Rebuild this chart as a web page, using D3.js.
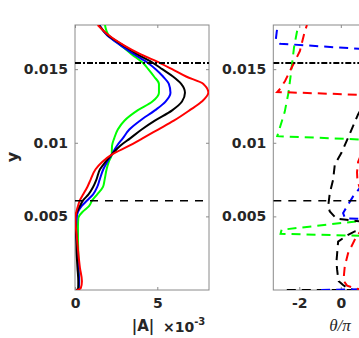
<!DOCTYPE html>
<html>
<head>
<meta charset="utf-8">
<script src="https://d3js.org/d3.v7.min.js"></script>
<style>
  body { margin: 0; background: #fff; }
  text { font-family: "DejaVu Sans", sans-serif; fill: #262626; }
</style>
</head>
<body>
<div id="my_dataviz"></div>
<script>

// y values are in units of 1e-3
var yGrid = [0, 0.12, 0.6, 1.5, 2.5, 3.5, 4.3, 4.9, 5.3, 5.7, 6.1, 6.5, 7.0, 7.5, 8.2, 8.7,
             9.2, 9.8, 10.3, 10.9, 11.5, 12.2, 12.8, 13.4, 14.0, 14.5, 15.0, 15.4, 16.0, 16.6, 17.3, 18.0];

// |A| (x 1e-3) for the four cases
var ampGreen = [0.15, 0.22, 0.25, 0.22, 0.2, 0.18, 0.18, 0.2, 0.45, 0.85, 1.05, 1.35, 1.7, 1.8, 1.92, 2.05,
                2.23, 2.25, 2.38, 2.6, 3.0, 3.8, 4.7, 5.1, 5.1, 4.8, 4.45, 4.15, 3.45, 2.8, 2.05, 1.82];
var ampBlue  = [0.12, 0.22, 0.25, 0.2, 0.15, 0.1, 0.07, 0.1, 0.18, 0.4, 0.75, 1.1, 1.35, 1.5, 1.72, 1.95,
                2.23, 2.55, 2.9, 3.3, 3.95, 4.85, 5.5, 5.8, 5.7, 5.35, 4.9, 4.45, 3.6, 2.8, 1.95, 1.48];
var ampBlack = [0.1, 0.2, 0.2, 0.15, 0.1, 0.08, 0.04, 0.0, 0.12, 0.3, 0.5, 0.82, 1.1, 1.3, 1.52, 1.85,
                2.23, 2.75, 3.35, 4.05, 4.85, 5.9, 6.5, 6.68, 6.45, 5.95, 5.3, 4.78, 3.8, 2.95, 2.0, 1.45];
var ampRed   = [0.1, 0.35, 0.42, 0.3, 0.2, 0.12, 0.05, 0.03, 0.08, 0.18, 0.3, 0.5, 0.75, 0.95, 1.25, 1.65,
                2.23, 3.3, 4.1, 5.05, 6.0, 6.95, 7.7, 8.1, 7.8, 6.75, 5.9, 5.2, 4.0, 3.0, 2.05, 1.38];

// phase theta/pi, each with its own y samples
var phGreenY = [0, 1.5, 3.0, 3.6, 3.82, 4.09, 5.05, 6.5, 8.0, 9.5, 10.1, 10.45, 12.1, 13.4, 14.5, 16.5, 18];
var phGreen  = [2.6, 2.4, 2.8, 3.2, -2.9, -2.85, 3.2, 2.6, 2.2, 2.8, 3.2, -3.06, -2.7, -2.52, -2.42, -2.25, -2.05];

var phBlackY = [0, 0, 0.15, 0.34, 0.6, 0.8, 1.4, 1.93, 2.6, 3.29, 3.75, 3.98, 4.15, 4.3, 4.84, 5.34, 5.68,
                6.59, 7.5, 8.52, 9.32, 10.34, 11.93, 13.5, 15.0, 17.0, 18];
var phBlack  = [-2.6, 0.6, 0.3, 0.11, -0.1, -0.13, -0.18, -0.21, -0.17, -0.13, 0.35, 0.67, 1.5, 3.2, -0.21, -0.53, -0.61,
                -0.53, -0.37, -0.29, 0.03, 0.35, 0.83, 1.5, 2.3, 2.8, 3.0];

var phBlueY = [0, 0.1, 1.0, 2.5, 4.0, 4.7, 4.87, 5.23, 5.8, 6.36, 6.9, 8.0, 10.0, 12.0, 16.17, 16.73, 17.0, 17.6, 18];
var phBlue  = [-0.95, 3.2, 3.0, 2.5, 2.0, 3.2, 0.2, 0.11, 0.35, 0.59, 0.9, 1.5, 2.2, 2.8, 3.2, -2.93, -3.13, -3.08, -3.02];

var phRedY = [0, 0.1, 0.3, 0.6, 1.0, 1.6, 2.05, 2.5, 2.95, 3.41, 3.9, 5.0, 6.2, 6.8, 7.4, 8.0, 8.7, 9.3, 10.5,
              12.0, 13.15, 13.45, 13.6, 14.18, 15.55, 16.23, 17.59, 18];
var phRed  = [1.2, 0.7, 0.3, 0.15, 0.15, 0.19, 0.27, 0.35, 0.51, 0.67, 0.9, 1.3, 1.2, 0.95, 0.8, 0.78, 0.83, 1.0, 1.5,
              2.3, 3.2, -3.06, -2.96, -2.69, -2.21, -1.97, -1.73, -1.63];

// reference lines (y x 1e-3)
var yDashDot = 15.42;
var yDashed = 6.07;

var yTicks = [5, 10, 15];
var ampTicks = [0, 5];
var phTicks = [-2, 0];   // the "2" tick lies past the window edge

var colors = {green: "#00ff00", blue: "#0000ff", black: "#000000", red: "#ff0000"};

var svg = d3.select("#my_dataviz")
    .append("svg")
    .attr("width", 359)
    .attr("height", 338);

var y = d3.scaleLinear().domain([0, 18]).range([290, 25]);
var xA = d3.scaleLinear().domain([0, 8.14]).range([75, 209]);
var xP = d3.scaleLinear().domain([-3.25, 3.2]).range([273.3, 407.3]);

function zip(xs, ys) { return xs.map(function(v, i) { return [v, ys[i]]; }); }

// draw one panel frame with ticks
function panel(id, x, xTicks) {
    var x0 = x.range()[0], x1 = x.range()[1];
    svg.append("clipPath").attr("id", id)
        .append("rect").attr("x", x0).attr("y", 25).attr("width", x1 - x0).attr("height", 265);

    var g = svg.append("g").attr("class", "axes");
    g.append("g").attr("transform", "translate(" + x0 + ",0)")
        .call(d3.axisLeft(y).tickValues(yTicks).tickSize(-3).tickPadding(7)
            .tickFormat(function(d) { return String(d / 1000); }));
    g.append("g").attr("transform", "translate(" + x1 + ",0)")
        .call(d3.axisRight(y).tickValues(yTicks).tickSize(-3).tickFormat(""));
    g.append("g").attr("transform", "translate(0,290)")
        .call(d3.axisBottom(x).tickValues(xTicks).tickSize(-3).tickPadding(8)
            .tickFormat(function(d) { return String(d); }));
    g.append("g").attr("transform", "translate(0,25)")
        .call(d3.axisTop(x).tickValues(xTicks).tickSize(-3).tickFormat(""));
    g.selectAll(".domain").remove();
    g.selectAll(".tick line").attr("stroke", "#8a8a8a");
    g.selectAll(".tick text").attr("font-size", 14).attr("font-weight", "bold").attr("fill", "#262626");
    g.append("rect").attr("x", x0).attr("y", 25).attr("width", x1 - x0).attr("height", 265)
        .attr("fill", "none").attr("stroke", "#8a8a8a").attr("stroke-width", 1);

    return svg.append("g").attr("clip-path", "url(#" + id + ")");
}

// left panel: |A|
var left = panel("clipA", xA, ampTicks);
var ampLine = d3.line().x(function(d) { return xA(d[0]); }).y(function(d) { return y(d[1]); })
    .curve(d3.curveMonotoneY);
[["green", ampGreen], ["blue", ampBlue], ["black", ampBlack], ["red", ampRed]].forEach(function(s) {
    left.append("path").datum(zip(s[1], yGrid))
        .attr("d", ampLine).attr("fill", "none")
        .attr("stroke", colors[s[0]]).attr("stroke-width", 2);
});

// right panel: theta/pi
var right = panel("clipP", xP, phTicks);
var phLine = d3.line().x(function(d) { return xP(d[0]); }).y(function(d) { return y(d[1]); });
[["green", phGreen, phGreenY], ["black", phBlack, phBlackY], ["blue", phBlue, phBlueY], ["red", phRed, phRedY]].forEach(function(s) {
    right.append("path").datum(zip(s[1], s[2]))
        .attr("d", phLine).attr("fill", "none")
        .attr("stroke", colors[s[0]]).attr("stroke-width", 2)
        .attr("stroke-dasharray", "9,6");
});

// horizontal reference lines in both panels
[[left, xA], [right, xP]].forEach(function(p) {
    var r = p[1].range();
    p[0].append("line").attr("x1", r[0]).attr("x2", r[1])
        .attr("y1", y(yDashDot)).attr("y2", y(yDashDot))
        .attr("stroke", "#000").attr("stroke-width", 2).attr("stroke-dasharray", "6,2,2,2");
    p[0].append("line").attr("x1", r[0]).attr("x2", r[1])
        .attr("y1", y(yDashed)).attr("y2", y(yDashed))
        .attr("stroke", "#000").attr("stroke-width", 1.5).attr("stroke-dasharray", "8,7");
});

// labels
svg.append("text").attr("transform", "translate(18,157) rotate(-90)")
    .attr("text-anchor", "middle").attr("font-size", 16).attr("font-weight", "bold").text("y");

svg.append("text").attr("x", 143).attr("y", 331).attr("text-anchor", "middle")
    .attr("font-size", 15).attr("font-weight", "bold").text("|A|");
var mult = svg.append("text").attr("x", 163).attr("y", 332).attr("font-size", 14).attr("font-weight", "bold");
mult.append("tspan").text("\u00d710");
mult.append("tspan").attr("dy", -7).attr("font-size", 10).text("-3");

svg.append("text").attr("x", 340).attr("y", 331).attr("text-anchor", "middle")
    .attr("font-size", 17).attr("font-style", "italic")
    .style("font-family", "'Liberation Serif', serif").text("\u03b8/\u03c0");

</script>
</body>
</html>
